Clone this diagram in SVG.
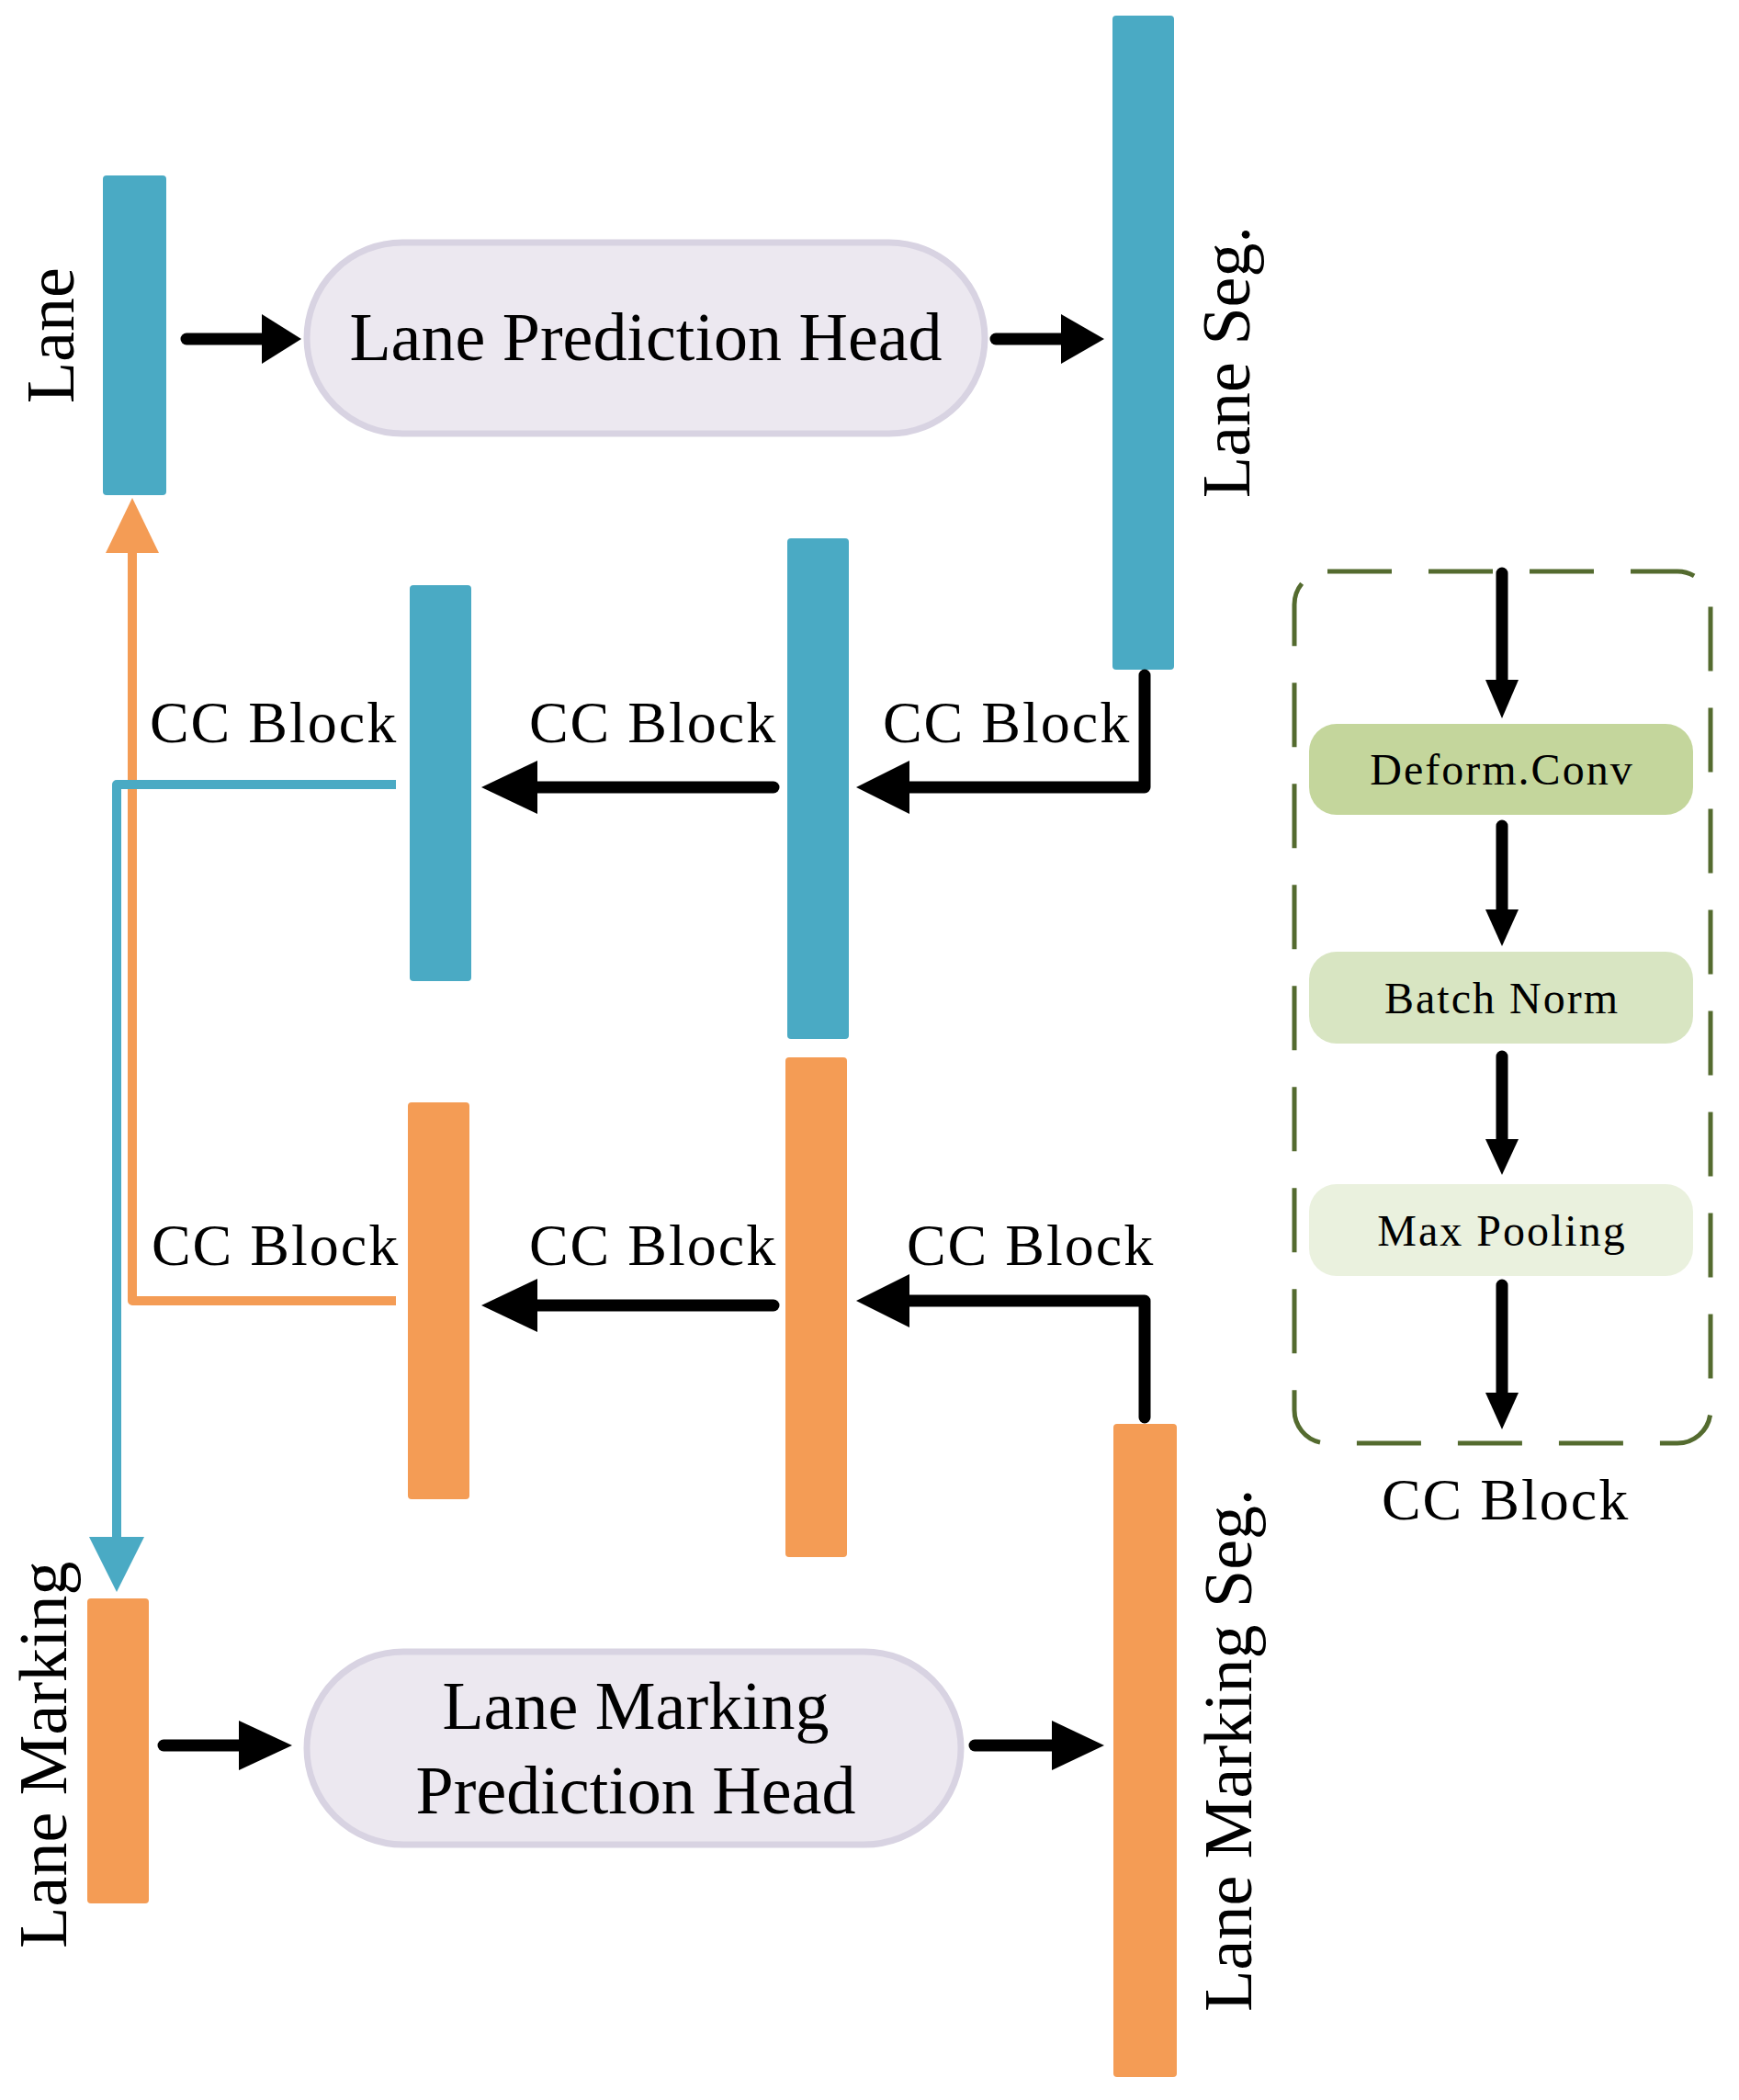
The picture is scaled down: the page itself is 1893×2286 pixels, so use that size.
<svg xmlns="http://www.w3.org/2000/svg" width="1893" height="2286" viewBox="0 0 1893 2286">
<style>
.b{fill:#4aaac4}.o{fill:#f49c55}
.t{font-family:"Liberation Serif",serif;fill:#000}
.big{font-size:74px}.cc{font-size:64px;letter-spacing:2px}.sm{font-size:48px;letter-spacing:2px}
.head{fill:#ece8f0;stroke:#d8d3e2;stroke-width:7}
.k{stroke:#000;stroke-width:13;fill:none;stroke-linecap:round;stroke-linejoin:round}
</style>
<rect width="1893" height="2286" fill="#fff"/>
<g id="lane"><rect class="b" x="112" y="191" width="69" height="348" rx="4"/><text class="t big" transform="translate(80,365) rotate(-90)" text-anchor="middle">Lane</text></g>
<g id="laneHead"><rect class="head" x="334" y="264" width="738" height="208" rx="104"/><text class="t big" x="703" y="392" text-anchor="middle">Lane Prediction Head</text></g>
<g id="laneSeg"><rect class="b" x="1211" y="17" width="67" height="712" rx="4"/><text class="t big" transform="translate(1360,394) rotate(-90)" text-anchor="middle">Lane Seg.</text></g>
<g id="blue2"><rect class="b" x="857" y="586" width="67" height="545" rx="4"/></g>
<g id="blue1"><rect class="b" x="446" y="637" width="67" height="431" rx="4"/></g>
<g id="orange2"><rect class="o" x="855" y="1151" width="67" height="544" rx="4"/></g>
<g id="orange1"><rect class="o" x="444" y="1200" width="67" height="432" rx="4"/></g>
<g id="laneMarkingSeg"><rect class="o" x="1212" y="1550" width="69" height="711" rx="4"/><text class="t big" transform="translate(1362,1905) rotate(-90)" text-anchor="middle">Lane Marking Seg.</text></g>
<g id="laneMarking"><rect class="o" x="95" y="1740" width="67" height="332" rx="4"/><text class="t big" transform="translate(72,1910) rotate(-90)" text-anchor="middle">Lane Marking</text></g>
<g id="markHead"><rect class="head" x="334" y="1798" width="712" height="210" rx="105"/><text class="t big" x="692" y="1882" text-anchor="middle">Lane Marking</text><text class="t big" x="692" y="1974" text-anchor="middle">Prediction Head</text></g>
<g id="ccbox"><rect x="1409" y="622" width="453" height="949" rx="36" fill="none" stroke="#546b2f" stroke-width="5" stroke-dasharray="70,40"/>
<rect x="1425" y="788" width="418" height="99" rx="30" fill="#c4d69c"/><text class="t sm" x="1635" y="854" text-anchor="middle">Deform.Conv</text>
<rect x="1425" y="1036" width="418" height="100" rx="30" fill="#d8e5c2"/><text class="t sm" x="1635" y="1103" text-anchor="middle">Batch Norm</text>
<rect x="1425" y="1289" width="418" height="100" rx="30" fill="#eaf1de"/><text class="t sm" x="1635" y="1356" text-anchor="middle">Max Pooling</text>
<text class="t cc" x="1639" y="1654" text-anchor="middle">CC Block</text></g>
<g id="connectors">
<path class="k" d="M203 369H290"/><polygon points="285,342 328,369 285,396"/>
<path class="k" d="M1084 369H1160"/><polygon points="1155,342 1202,369 1155,396"/>
<path class="k" d="M178 1900H265"/><polygon points="260,1873 318,1900 260,1927"/>
<path class="k" d="M1061 1900H1150"/><polygon points="1145,1873 1202,1900 1145,1927"/>
<path class="k" d="M1246 735V857H980"/><polygon points="990,828 932,857 990,886"/>
<path class="k" d="M842 857H580"/><polygon points="585,828 524,857 585,886"/>
<path class="k" d="M1246 1543V1416H980"/><polygon points="990,1387 932,1416 990,1445"/>
<path class="k" d="M842 1421H580"/><polygon points="585,1392 524,1421 585,1450"/>
<path d="M431 1416H144V590" fill="none" stroke="#f49c55" stroke-width="10" stroke-linejoin="round"/><polygon fill="#f49c55" points="115,602 144,542 173,602"/>
<path d="M431 854H127V1680" fill="none" stroke="#4aaac4" stroke-width="10" stroke-linejoin="round"/><polygon fill="#4aaac4" points="97,1673 127,1733 157,1673"/>
<text class="t cc" x="1096" y="808" text-anchor="middle">CC Block</text>
<text class="t cc" x="711" y="808" text-anchor="middle">CC Block</text>
<text class="t cc" x="298" y="808" text-anchor="middle">CC Block</text>
<text class="t cc" x="1122" y="1377" text-anchor="middle">CC Block</text>
<text class="t cc" x="711" y="1377" text-anchor="middle">CC Block</text>
<text class="t cc" x="300" y="1377" text-anchor="middle">CC Block</text>
<path class="k" d="M1635 624V740" stroke-width="5"/><polygon points="1617,740 1635,782 1653,740"/>
<path class="k" d="M1635 899V990" stroke-width="5"/><polygon points="1617,990 1635,1030 1653,990"/>
<path class="k" d="M1635 1150V1240" stroke-width="5"/><polygon points="1617,1240 1635,1279 1653,1240"/>
<path class="k" d="M1635 1399V1516" stroke-width="5"/><polygon points="1617,1516 1635,1556 1653,1516"/>
</g>
</svg>
